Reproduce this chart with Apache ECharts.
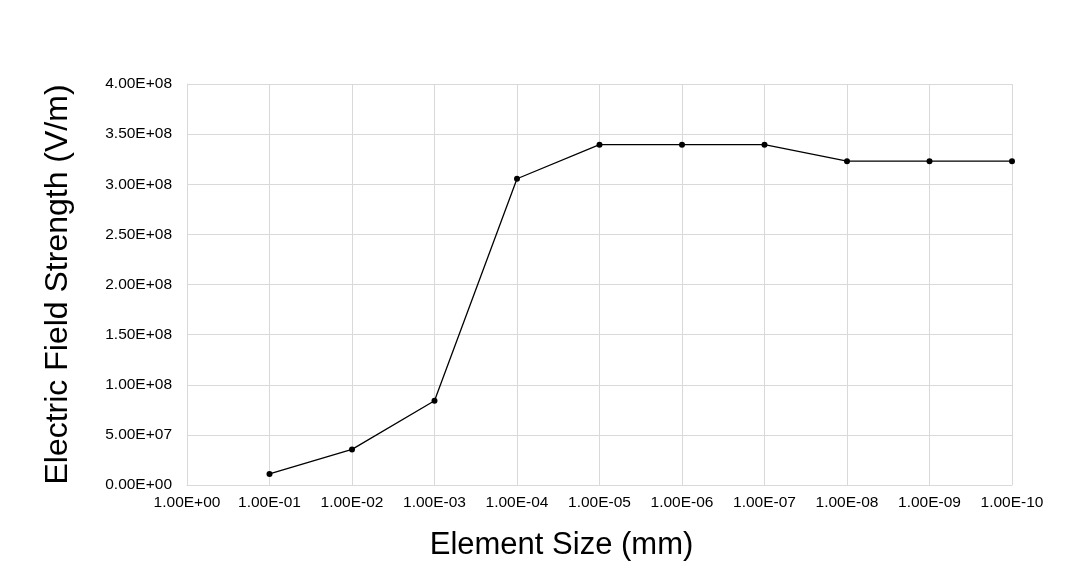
<!DOCTYPE html>
<html>
<head>
<meta charset="utf-8">
<script src="https://cdn.jsdelivr.net/npm/echarts@6/dist/echarts.min.js"></script>
<style>html,body{margin:0;padding:0;background:#fff;}#chart{width:1076px;height:577px;}</style>
</head>
<body>
<div id="chart"></div>
<script>
const categories = ['1.00E+00','1.00E-01','1.00E-02','1.00E-03','1.00E-04','1.00E-05','1.00E-06','1.00E-07','1.00E-08','1.00E-09','1.00E-10'];
const fieldStrength = [null, 1.1e7, 3.55e7, 8.4e7, 3.055e8, 3.395e8, 3.395e8, 3.395e8, 3.23e8, 3.23e8, 3.23e8];
const yMin = 0, yMax = 4e8, yStep = 5e7;

function fmtSci(v) {
  if (v === 0) return '0.00E+00';
  const e = Math.floor(Math.log10(Math.abs(v)) + 1e-9);
  const m = v / Math.pow(10, e);
  const sign = e < 0 ? '-' : '+';
  const ae = Math.abs(e);
  return m.toFixed(2) + 'E' + sign + (ae < 10 ? '0' + ae : ae);
}

const chart = echarts.init(document.getElementById('chart'), null, {renderer: 'canvas'});
const font = 'Liberation Sans, Arial, sans-serif';
chart.setOption({
  animation: false,
  backgroundColor: '#fff',
  grid: {left: 187, right: 64, top: 84, bottom: 92, containLabel: false},
  xAxis: {
    type: 'category',
    data: categories,
    boundaryGap: false,
    name: 'Element Size (mm)',
    nameLocation: 'middle',
    nameGap: 45,
    nameTextStyle: {fontFamily: font, fontSize: 31, color: '#000', verticalAlign: 'top', padding: [0, 76, 0, 0]},
    axisLine: {lineStyle: {color: '#d9d9d9', width: 1}},
    axisTick: {show: false},
    axisLabel: {fontFamily: font, fontSize: 15.5, color: '#000', margin: 10, interval: 0},
    splitLine: {show: true, lineStyle: {color: '#d9d9d9', width: 1}}
  },
  yAxis: {
    type: 'value',
    min: yMin, max: yMax, interval: yStep,
    name: 'Electric Field Strength (V/m)',
    nameLocation: 'middle',
    nameGap: 113,
    nameTextStyle: {fontFamily: font, fontSize: 32, color: '#000'},
    axisLine: {show: true, lineStyle: {color: '#d9d9d9', width: 1}},
    axisTick: {show: false},
    axisLabel: {fontFamily: font, fontSize: 15.5, color: '#000', margin: 15, formatter: fmtSci},
    splitLine: {show: true, lineStyle: {color: '#d9d9d9', width: 1}}
  },
  series: [{
    type: 'line',
    data: fieldStrength,
    connectNulls: false,
    symbol: 'circle',
    symbolSize: 6,
    itemStyle: {color: '#000'},
    lineStyle: {color: '#000', width: 1.3}
  }]
});
</script>
</body>
</html>
